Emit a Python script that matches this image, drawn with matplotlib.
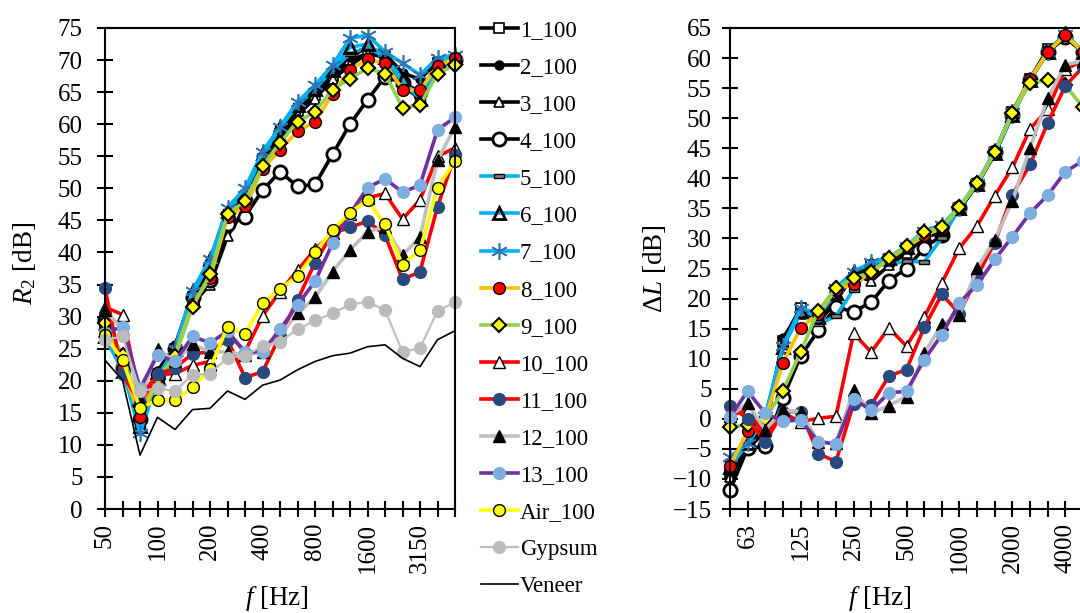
import matplotlib
matplotlib.use("Agg")
import matplotlib.pyplot as plt
import numpy as np

# ---------------- DATA ----------------
FREQS = ["50", "63", "80", "100", "125", "160", "200", "250", "315", "400", "500",
         "630", "800", "1000", "1250", "1600", "2000", "2500", "3150", "4000", "5000"]

# left panel: R2 [dB]
r2_1 = [28, 22.5, 15, 21, 25, 33, 37.5, 45.5, 48.5, 54.5, 58.5, 62, 64.5, 67.5, 70, 71, 70.5, 66, 64.8, 69.5, 70]
r2_2 = [30, 21, 14.5, 21.5, 25.5, 33.5, 37.5, 45.5, 49, 55, 59, 62.5, 65, 68, 70.5, 72, 71, 68, 67, 69.8, 70]
r2_3 = [31, 22, 15, 21, 25, 32, 35, 42.5, 47, 53.5, 57.5, 61.5, 64, 67, 69.2, 71, 70.5, 66, 64, 69, 70]
r2_4 = [29.5, 22, 14, 21, 25, 33, 35.7, 44.5, 45.6, 49.7, 52.6, 50.3, 50.6, 55.3, 60, 63.8, 67.4, 66.5, 65, 69, 70]
r2_5 = [26.5, 22, 13, 20.5, 25, 33.5, 38.5, 46.5, 49.5, 55, 59.5, 63, 65.5, 68.5, 71, 72, 70.5, 66.5, 64, 69, 70]
r2_6 = [27, 21.5, 13, 20.5, 25, 34, 39, 46.5, 49.5, 55.5, 59.5, 63, 65.5, 68.5, 72, 72.5, 70.5, 67, 64, 69.5, 70.5]
r2_7 = [27.5, 22, 11.8, 20, 25, 34, 39, 47, 50, 55.7, 59.6, 63.5, 66.1, 69.2, 73.4, 73.9, 71.3, 69.5, 67.7, 70.3, 70.8]
r2_8 = [29, 22, 14.4, 20, 24, 32, 36, 45.5, 47.2, 53, 56, 58.9, 60.4, 64.7, 68.5, 70.1, 69.5, 65.4, 65.3, 69.1, 70.3]
r2_9 = [29, 24, 16, 20.3, 23.8, 31.5, 36.6, 46, 48, 53.5, 57.1, 60.4, 61.9, 65.4, 67.1, 68.7, 67.9, 62.6, 63, 67.9, 69.2]
r2_10 = [31.5, 30.3, 17.5, 21, 21.1, 22.4, 23, 27.5, 24.5, 30.1, 33.9, 37.2, 40.5, 43, 46, 48.5, 49.2, 45.2, 48.2, 55, 56.3]
r2_11 = [34.4, 21, 16.5, 21, 22, 24.2, 24.5, 26.4, 20.5, 21.4, 27, 32.6, 38.4, 43, 43.9, 44.9, 42.7, 35.8, 37, 47.1, 55.2]
r2_12 = [31, 28, 17, 25, 23, 25.7, 24.5, 24.5, 24, 24.5, 27, 30.5, 33, 37, 40.4, 43.2, 44, 39.6, 42.4, 54.4, 59.6]
r2_13 = [27.5, 28.4, 18.8, 24, 23, 26.9, 25.9, 27.7, 24.5, 24.5, 28, 31.8, 35.5, 41.4, 46, 50.1, 51.5, 49.4, 50.5, 59.1, 61.1]
r2_air = [27.1, 23.3, 15.7, 17, 17, 19, 21.9, 28.4, 27.3, 32.1, 34.3, 36.3, 40, 43.5, 46.2, 48.2, 44.4, 38.1, 40.4, 50.1, 54.3]
r2_gyp = [26.4, 26.9, 18.4, 18.8, 18.4, 20.9, 21.1, 23.6, 23.9, 25.4, 26.1, 28, 29.4, 30.5, 31.9, 32.3, 31, 24.5, 25.1, 30.9, 32.2]
r2_ven = [23.2, 20.1, 8.4, 14.3, 12.4, 15.5, 15.7, 18.4, 17.1, 19.3, 20.1, 21.7, 23, 23.9, 24.3, 25.3, 25.6, 23.5, 22.2, 26.4, 27.8]

# right panel: delta L [dB]
dl_1 = [-9, -4.5, -1, 13, 18.5, 16.5, 21, 23.5, 25.5, 26.5, 28, 30.5, 31.5, 35, 39, 44.3, 51, 56.5, 61.5, 63.5, 61]
dl_2 = [-9.5, -5, -2.1, 13.4, 18, 16.5, 20.5, 24, 25, 26.3, 28.2, 30.5, 31.2, 34.8, 39, 44.2, 51, 56.5, 61.2, 63.8, 61]
dl_3 = [-9.6, -3.1, -1, 12.5, 17.5, 16, 19.5, 24, 22.9, 25.5, 27.5, 30.2, 31, 35, 39, 44, 50.5, 56.5, 61, 63.5, 61]
dl_4 = [-11.8, -4.9, -4.6, 3.5, 10.4, 14.7, 18.6, 17.8, 19.4, 23, 25, 28.4, 30.5, 35, 39, 44.4, 50.5, 56.3, 61, 63.5, 61]
dl_5 = [-7, -4.1, 0, 12, 17.5, 15.7, 17.1, 21.5, 25.4, 25.7, 26.2, 26.1, 30.1, 35, 39.2, 44.2, 50.5, 56.5, 61, 64, 61]
dl_6 = [-8, -4.1, 0.5, 12, 18, 17, 21, 24.5, 25.8, 26.7, 28.5, 30.8, 31.5, 35.1, 39, 44.2, 50.6, 56.4, 61, 64, 61]
dl_7 = [-6.3, -4.1, 0.5, 12.1, 18.4, 17.5, 21.8, 24.5, 26, 26.8, 28.8, 31.3, 32.2, 35.3, 39.3, 44.5, 51, 56.4, 61, 64, 61]
dl_8 = [-7.9, -2, 0, 9.3, 15.1, 17.5, 21.5, 22.4, 24.3, 26.5, 28.5, 30.5, 31.7, 35.2, 39.1, 44.4, 50.8, 56.5, 61, 63.8, 61]
dl_9 = [-1.4, -1, 0, 4.7, 11.1, 18, 21.7, 23.4, 24.4, 26.7, 28.7, 31.1, 31.9, 35.3, 39.2, 44.4, 50.8, 55.8, 56.3, 55.5, 51.8]
dl_10 = [0.5, 1.5, -3, 1, -0.5, 0.1, 0.4, 14.2, 11.1, 15.1, 12.1, 16.9, 22.6, 28.4, 32.1, 37.1, 41.8, 48.2, 51.5, 58.2, 59.5]
dl_11 = [2.2, 0, -3.9, 1.2, 1.2, -5.8, -7.1, 2.5, 2.3, 7.1, 8.2, 15.2, 20.7, 17.5, 23.7, 29.3, 37.3, 42.3, 49.2, 55.4, 58.5]
dl_12 = [0.5, 2.6, -1.8, 1.4, 1.2, -3.8, -4.1, 4.8, 0.9, 2.2, 3.7, 10.9, 15.7, 17.3, 25.1, 29.8, 36.2, 45.1, 53.3, 58.9, 59.5]
dl_13 = [0.3, 4.6, 0.9, -0.4, -0.2, -3.8, -4.2, 3.3, 1.4, 4.3, 4.6, 9.8, 14, 19.3, 22.3, 26.5, 30.3, 34.2, 37.2, 41.1, 42.9]

LABELS = ["1_100", "2_100", "3_100", "4_100", "5_100", "6_100", "7_100", "8_100",
          "9_100", "10_100", "11_100", "12_100", "13_100", "Air_100", "Gypsum", "Veneer"]
# ---------------------------------------

plt.rcParams["font.family"] = ["Liberation Serif", "DejaVu Serif"]
plt.rcParams["mathtext.fontset"] = "custom"
plt.rcParams["mathtext.rm"] = "Liberation Serif"
plt.rcParams["mathtext.it"] = "Liberation Serif:italic"

BLUE = "#00B0F0"
LW = 2.6
dash = [(-1, -0.4), (1, -0.4), (1, 0.4), (-1, 0.4), (-1, -0.4)]

styles = [
    dict(color="black", lw=LW, marker="s", ms=6.5, mfc="white", mec="black", mew=1.2),
    dict(color="black", lw=LW, marker="o", ms=6.5, mfc="black", mec="black"),
    dict(color="black", lw=LW, marker="^", ms=7.5, mfc="white", mec="black", mew=1.2),
    dict(color="black", lw=LW, marker="o", ms=9.5, mfc="white", mec="black", mew=2),
    dict(color=BLUE, lw=LW, marker=dash, ms=7, mfc="#7F7F7F", mec="black", mew=1),
    dict(color=BLUE, lw=LW, marker="^", ms=8.5, mfc="none", mec="black", mew=2),
    dict(color=BLUE, lw=LW, marker=(6, 2, 0), ms=12, mec="#2E75B6", mew=1.2),
    dict(color="#FFC000", lw=LW, marker="o", ms=8.5, mfc="#FF0000", mec="black", mew=1),
    dict(color="#92D050", lw=LW, marker="D", ms=7.5, mfc="#FFFF00", mec="black", mew=1.5),
    dict(color="#FF0000", lw=LW, marker="^", ms=8.5, mfc="white", mec="black", mew=1),
    dict(color="#FF0000", lw=LW, marker="o", ms=8.5, mfc="#2A4A7F", mec="#2A4A7F"),
    dict(color="#BFBFBF", lw=LW, marker="^", ms=8.5, mfc="black", mec="black"),
    dict(color="#7030A0", lw=LW, marker="o", ms=8.5, mfc="#7EAEDF", mec="#7EAEDF"),
    dict(color="#FFFF00", lw=LW, marker="o", ms=8.5, mfc="#FFFF00", mec="black", mew=1),
    dict(color="#BFBFBF", lw=1.6, marker="o", ms=8.5, mfc="#BBBBBB", mec="#BBBBBB"),
    dict(color="black", lw=1.2),
]

left_series = [r2_1, r2_2, r2_3, r2_4, r2_5, r2_6, r2_7, r2_8, r2_9,
               r2_10, r2_11, r2_12, r2_13, r2_air, r2_gyp, r2_ven]
right_series = [dl_1, dl_2, dl_3, dl_4, dl_5, dl_6, dl_7, dl_8, dl_9,
                dl_10, dl_11, dl_12, dl_13]

x = np.arange(len(FREQS))

fig = plt.figure(figsize=(10.8, 6.13), dpi=100)
ax1 = fig.add_axes([105 / 1080, 104 / 613, 350 / 1080, 481 / 613])
ax2 = fig.add_axes([730 / 1080, 104 / 613, 353 / 1080, 481 / 613])

handles = []
for vals, st, lab in zip(left_series, styles, LABELS):
    h, = ax1.plot(x, vals, label=lab, clip_on=False, **st)
    handles.append(h)

for vals, st in zip(right_series, styles):
    ax2.plot(x, vals, clip_on=False, **st)


def style_axes(ax, ylim, step, label_every, offset, ypad):
    ax.set_xlim(0, 20)
    ax.set_ylim(*ylim)
    ax.set_yticks(np.arange(ylim[0], ylim[1] + 1, step))
    ax.set_xticks(x)
    ax.set_xticklabels([f if (i - offset) % label_every == 0 else "" for i, f in enumerate(FREQS)],
                       rotation=90)
    ax.tick_params(axis="both", direction="inout", length=12, width=1.5,
                   labelsize=18, colors="black")
    ax.tick_params(axis="y", pad=ypad)
    ax.tick_params(axis="x", pad=4)
    for s in ax.spines.values():
        s.set_linewidth(1.5)


style_axes(ax1, (0, 75), 5, 3, 0, 10)
style_axes(ax2, (-15, 65), 5, 3, 1, 7)
ax2.spines["right"].set_visible(False)

ax1.set_ylabel(r"$R_2$ [dB]", fontsize=19.5)
ax1.yaxis.set_label_coords(-0.19, 0.51)
ax1.set_xlabel(r"$f$ [Hz]", fontsize=19.5)
ax1.xaxis.set_label_coords(0.49, -0.155)

ax2.set_ylabel(r"$\mathit{\Delta}\mathit{L}$ [dB]", fontsize=19.5)
ax2.yaxis.set_label_coords(-0.175, 0.5)
ax2.set_xlabel(r"$f$ [Hz]", fontsize=19.5)
ax2.xaxis.set_label_coords(0.425, -0.155)

fig.legend(handles, LABELS, loc="upper left", bbox_to_anchor=(481 / 1080, 1 - 20 / 613),
           frameon=False, fontsize=16.5, handlelength=1.6, handletextpad=0.1,
           labelspacing=0.7, borderpad=0, borderaxespad=0)

plt.savefig("out.png", dpi=100)
